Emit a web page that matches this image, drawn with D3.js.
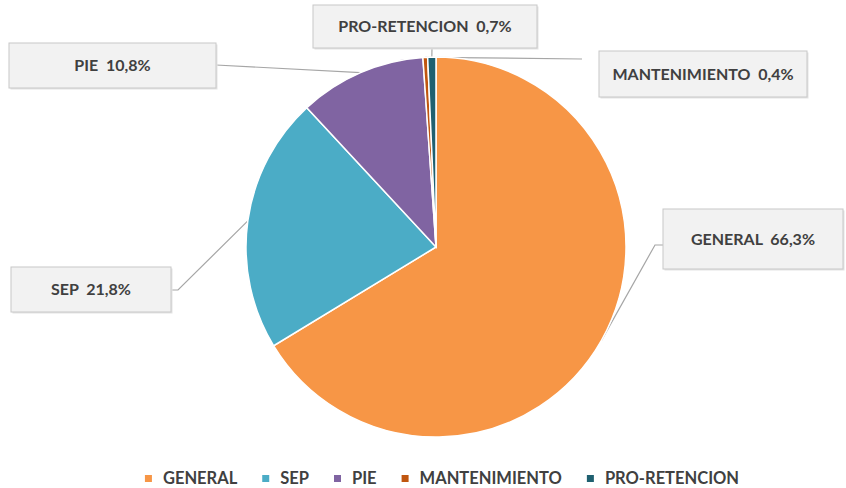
<!DOCTYPE html>
<html>
<head>
  <meta charset="utf-8">
  <script src="https://d3js.org/d3.v7.min.js"></script>
  <style>
    body { margin: 0; background: #fff; }
    text { font-family: Lato, "Open Sans", sans-serif; font-weight: 700; fill: #404040; }
  </style>
</head>
<body>
  <script>
    // data
    const categories = ["GENERAL", "SEP", "PIE", "MANTENIMIENTO", "PRO-RETENCION"];
    const values = [66.3, 21.8, 10.8, 0.4, 0.7];
    const colors = ["#F79646", "#4BACC6", "#8064A2", "#C0560F", "#1F6070"];

    // label boxes and leader elbows, by category
    const labelLayout = [
      { box: [663, 209, 180, 60], path: [[655, 245], [663, 245]] },
      { box: [11, 267, 160, 45], path: [[178, 290], [171, 290]] },
      { box: [9, 43, 207, 45], path: [[216, 65]] },
      { box: [599, 51, 208, 46], path: [[582, 59]] },
      { box: [313, 5, 224, 43], path: [[432, 48]] }
    ];

    const width = 846, height = 488;
    const cx = 436, cy = 247, radius = 190;

    const svg = d3.select("body").append("svg")
      .attr("width", width)
      .attr("height", height);

    const pie = d3.pie().sort(null).value(d => d)(values);
    const arc = d3.arc().innerRadius(0).outerRadius(radius);

    //leader lines go under the pie
    const lines = svg.append("g");
    pie.forEach((p, i) => {
      const a = (p.startAngle + p.endAngle) / 2;
      const start = [cx + radius * Math.sin(a), cy - radius * Math.cos(a)];
      lines.append("path")
        .attr("d", d3.line()([start].concat(labelLayout[i].path)))
        .attr("fill", "none")
        .attr("stroke", "#A6A6A6")
        .attr("stroke-width", 1.2);
    });

    const g = svg.append("g").attr("transform", "translate(" + cx + "," + cy + ")");
    g.selectAll("path")
      .data(pie)
      .enter().append("path")
      .attr("d", arc)
      .attr("fill", (d, i) => colors[i])
      .attr("stroke", "#fff")
      .attr("stroke-width", 1.5);

    //data labels
    const labels = svg.selectAll(".lbl")
      .data(pie)
      .enter().append("g")
      .attr("class", "lbl");

    labels.append("rect")
      .attr("x", (d, i) => labelLayout[i].box[0] + 1.5)
      .attr("y", (d, i) => labelLayout[i].box[1] + 1.5)
      .attr("width", (d, i) => labelLayout[i].box[2])
      .attr("height", (d, i) => labelLayout[i].box[3])
      .attr("fill", "#E4E4E4");

    labels.append("rect")
      .attr("x", (d, i) => labelLayout[i].box[0])
      .attr("y", (d, i) => labelLayout[i].box[1])
      .attr("width", (d, i) => labelLayout[i].box[2])
      .attr("height", (d, i) => labelLayout[i].box[3])
      .attr("fill", "#F2F2F2")
      .attr("stroke", "#C8C8C8")
      .attr("stroke-width", 1);

    labels.append("text")
      .attr("x", (d, i) => labelLayout[i].box[0] + labelLayout[i].box[2] / 2)
      .attr("y", (d, i) => labelLayout[i].box[1] + labelLayout[i].box[3] / 2)
      .attr("dy", "0.36em")
      .attr("text-anchor", "middle")
      .style("font-size", "16px")
      .text((d, i) => categories[i] + "\u00a0 " + values[i].toFixed(1).replace(".", ",") + "%");

    //legend
    const legend = svg.append("g");
    const items = legend.selectAll("g")
      .data(categories)
      .enter().append("g");
    items.append("rect")
      .attr("y", -3)
      .attr("width", 7)
      .attr("height", 7)
      .attr("fill", (d, i) => colors[i]);
    items.append("text")
      .attr("x", 18)
      .attr("dy", "0.36em")
      .style("font-size", "16.5px")
      .text(d => d);

    let xPos = 0;
    items.each(function () {
      d3.select(this).attr("transform", "translate(" + xPos + ",0)");
      xPos += 18 + d3.select(this).select("text").node().getComputedTextLength() + 25;
    });
    const legendWidth = xPos - 25;
    legend.attr("transform", "translate(" + ((147 + 737) / 2 - legendWidth / 2) + ",478)");
  </script>
</body>
</html>
